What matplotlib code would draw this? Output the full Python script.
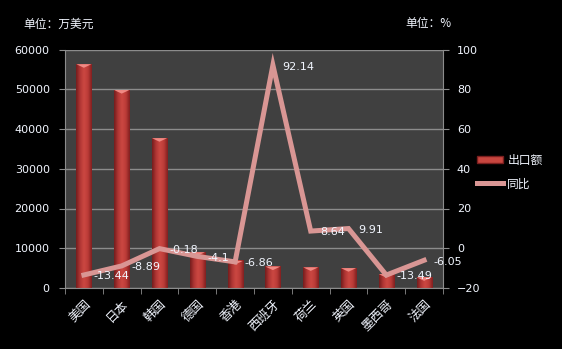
import numpy as np
import matplotlib
matplotlib.use('Agg')
import matplotlib.pyplot as plt
from matplotlib.colors import LinearSegmentedColormap
from matplotlib.patches import Rectangle
from matplotlib.lines import Line2D

plt.rcParams['font.family'] = ['DejaVu Sans', 'Noto Sans CJK SC']
cjk = ['Noto Sans CJK SC', 'DejaVu Sans']

countries = ['美国', '日本', '韩国', '德国', '香港', '西班牙', '荷兰', '英国', '墨西哥', '法国']
exports = [56300, 49800, 37700, 9000, 6800, 5400, 5200, 5000, 3500, 2700]
yoy = [-13.44, -8.89, -0.18, -4.1, -6.86, 92.14, 8.64, 9.91, -13.49, -6.05]

txt = '#f2f6ff'
grid_c = '#8c8c8c'

fig = plt.figure(figsize=(5.62, 3.49), dpi=100, facecolor='black')
ax = fig.add_axes([65/562, 1-288/349, 378/562, 238.5/349])
ax.set_facecolor('#404040')

x = np.arange(len(countries))
w = 0.4

# cylinder-like shading for each bar
cyl = LinearSegmentedColormap.from_list('cyl', ['#741c1c', '#b03634', '#cc4842', '#bc3c38', '#801f1f'])
grad = np.linspace(0, 1, 64).reshape(1, -1)
for xi, v in zip(x, exports):
    ax.imshow(grad, cmap=cyl, aspect='auto', extent=(xi - w/2, xi + w/2, 0, v),
              origin='lower', zorder=2, interpolation='bicubic')
    cap = 900
    ax.fill([xi - w/2, xi + w/2, xi], [v, v, v - cap], color='#f08a84', zorder=3, lw=0)

ax.set_xlim(-0.5, len(countries) - 0.5)
ax.set_ylim(0, 60000)
ax.set_yticks(np.arange(0, 60001, 10000))
ax.yaxis.grid(True, color=grid_c, lw=1)
ax.set_axisbelow(True)
ax.set_xticks(x)
ax.set_xticklabels(countries, rotation=45, ha='right', va='top', rotation_mode='anchor',
                   color=txt, fontsize=9, family=cjk)
ax.set_xticks(np.arange(-0.5, len(countries)), minor=True)
ax.tick_params(axis='x', which='major', length=0, pad=7)
ax.tick_params(axis='x', which='minor', length=4, color=grid_c)
ax.tick_params(axis='y', length=4, color=grid_c, labelcolor=txt, labelsize=8, pad=7)
for s in ax.spines.values():
    s.set_visible(False)
ax.spines['left'].set_visible(True)
ax.spines['bottom'].set_visible(True)
ax.spines['left'].set_color(grid_c)
ax.spines['bottom'].set_color(grid_c)

ax2 = ax.twinx()
ax2.set_ylim(-20, 100)
ax2.set_yticks(np.arange(-20, 101, 20))
ax2.plot(x, yoy, color='#d99694', lw=3.6, solid_joinstyle='miter', zorder=2)
for xi, v in zip(x, yoy):
    ax2.annotate(f'{v:g}', (xi, v), xytext=(7, -1), textcoords='offset points',
                 ha='left', va='center', color=txt, fontsize=8, zorder=5)
for s in ax2.spines.values():
    s.set_visible(False)
ax2.spines['right'].set_visible(True)
ax2.spines['right'].set_color(grid_c)
ax2.tick_params(axis='y', length=4, color=grid_c, labelcolor=txt, labelsize=8, pad=6)

fig.text(23/562, 1-24/349, '单位：万美元', color=txt, fontsize=8.5, va='center', family=cjk)
fig.text(405/562, 1-24/349, '单位：%', color=txt, fontsize=8.5, va='center', family=cjk)

handles = [Rectangle((0, 0), 1, 1, facecolor='#c8463f', edgecolor='#7a1e1e'),
           Line2D([0], [0], color='#d99694', lw=3.6)]
fig.legend(handles, ['出口额', '同比'], loc='center left', bbox_to_anchor=(472/562, 1-172/349),
           frameon=False, labelcolor=txt, handlelength=2.2, handleheight=0.6,
           labelspacing=0.9, borderaxespad=0, handletextpad=0.4,
           prop={'family': cjk, 'size': 8.5})

fig.savefig('out.png', dpi=100, facecolor='black')
